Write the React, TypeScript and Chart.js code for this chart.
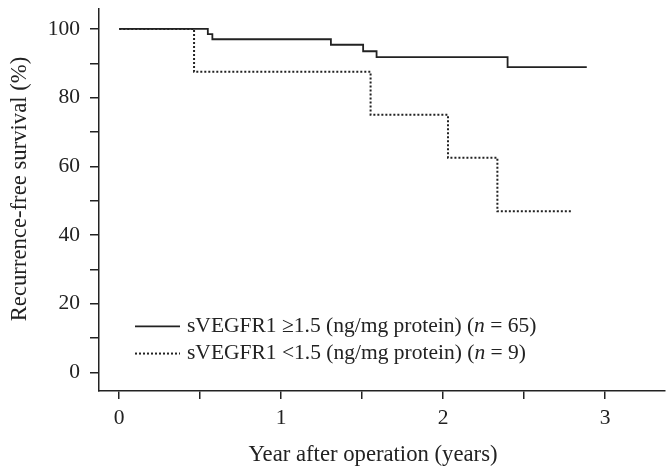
import React, { useEffect, useRef } from "react";
import { Chart, registerables } from "chart.js";

Chart.register(...registerables);

// Kaplan–Meier step data (years, % recurrence-free)
const highYears = [0, 0.547, 0.575, 1.307, 1.506, 1.589, 2.398, 2.887];
const highSurvival = [100, 98.5, 97.0, 95.4, 93.5, 91.8, 88.9, 88.9];
const lowYears = [0, 0.462, 1.552, 2.03, 2.335, 2.801];
const lowSurvival = [100, 87.5, 75.0, 62.5, 46.9, 46.9];

const xTicks = [0, 0.5, 1, 1.5, 2, 2.5, 3];
const yTicks = [0, 10, 20, 30, 40, 50, 60, 70, 80, 90, 100];
const xLabelTicks = [0, 1, 2, 3];
const yLabelTicks = [0, 20, 40, 60, 80, 100];

const xTitle = "Year after operation (years)";
const yTitle = "Recurrence-free survival (%)";

const legendItems = [
  { pre: "sVEGFR1 \u22651.5 (ng/mg protein) (", n: "n", post: " = 65)", dash: [] as number[] },
  { pre: "sVEGFR1 <1.5 (ng/mg protein) (", n: "n", post: " = 9)", dash: [2, 2] },
];

const FONT = "'Liberation Serif', 'DejaVu Serif', serif";
const INK = "#222";

const annotatePlugin = {
  id: "kmLegend",
  afterDatasetsDraw(chart: any) {
    const { ctx, chartArea, scales } = chart;
    const x0 = chartArea.left + 36;
    const rows = [scales.y.getPixelForValue(13.4), scales.y.getPixelForValue(5.5)];
    ctx.save();
    legendItems.forEach((it, i) => {
      const y = rows[i];
      ctx.beginPath();
      ctx.setLineDash(it.dash);
      ctx.lineWidth = it.dash.length ? 2 : 1.8;
      ctx.strokeStyle = INK;
      ctx.moveTo(x0, y);
      ctx.lineTo(x0 + 45, y);
      ctx.stroke();
      ctx.setLineDash([]);
      ctx.fillStyle = INK;
      ctx.textBaseline = "middle";
      let tx = x0 + 52;
      ctx.font = `21.5px ${FONT}`;
      ctx.fillText(it.pre, tx, y);
      tx += ctx.measureText(it.pre).width;
      ctx.font = `italic 21.5px ${FONT}`;
      ctx.fillText(it.n, tx, y);
      tx += ctx.measureText(it.n).width;
      ctx.font = `21.5px ${FONT}`;
      ctx.fillText(it.post, tx, y);
    });
    // axis titles
    ctx.font = `22.7px ${FONT}`;
    ctx.textAlign = "center";
    ctx.textBaseline = "alphabetic";
    ctx.fillText(xTitle, (chartArea.left + chartArea.right) / 2 - 9, chart.height - 5);
    ctx.translate(26, (chartArea.top + chartArea.bottom) / 2 - 11);
    ctx.rotate(-Math.PI / 2);
    ctx.fillText(yTitle, 0, 0);
    ctx.restore();
  },
};

export default function App() {
  const ref = useRef<HTMLCanvasElement | null>(null);
  useEffect(() => {
    if (!ref.current) return;
    const chart = new Chart(ref.current, {
      type: "line",
      data: {
        datasets: [
          {
            label: "sVEGFR1 ≥1.5",
            data: highYears.map((x, i) => ({ x, y: highSurvival[i] })),
            borderColor: INK,
            borderWidth: 1.8,
            stepped: "before",
            pointRadius: 0,
            fill: false,
          },
          {
            label: "sVEGFR1 <1.5",
            data: lowYears.map((x, i) => ({ x, y: lowSurvival[i] })),
            borderColor: INK,
            borderWidth: 2,
            borderDash: [2, 2],
            stepped: "before",
            pointRadius: 0,
            fill: false,
          },
        ],
      },
      options: {
        responsive: false,
        animation: false,
        layout: { padding: { top: 9, right: 1, left: 0, bottom: 0 } },
        plugins: { legend: { display: false }, tooltip: { enabled: false } },
        scales: {
          x: {
            type: "linear",
            min: -0.125,
            max: 3.37,
            afterBuildTicks: (s: any) => {
              s.ticks = xTicks.map((v) => ({ value: v }));
            },
            afterFit: (s: any) => {
              s.height = 75;
              s.paddingLeft = 0;
              s.paddingRight = 0;
            },
            grid: { drawOnChartArea: false, drawTicks: true, tickLength: 8, color: INK, lineWidth: 1.5 },
            border: { display: true, color: INK, width: 1.5 },
            ticks: {
              color: INK,
              padding: 6,
              maxRotation: 0,
              autoSkip: false,
              font: { family: FONT, size: 21.5 },
              callback: (v: any) => (xLabelTicks.includes(Number(v)) ? String(v) : ""),
            },
          },
          y: {
            type: "linear",
            min: -5.4,
            max: 105.8,
            afterBuildTicks: (s: any) => {
              s.ticks = yTicks.map((v) => ({ value: v }));
            },
            afterFit: (s: any) => {
              s.width = 99;
              s.paddingTop = 0;
              s.paddingBottom = 0;
            },
            grid: { drawOnChartArea: false, drawTicks: true, tickLength: 9, color: INK, lineWidth: 1.5 },
            border: { display: true, color: INK, width: 1.5 },
            ticks: {
              color: INK,
              padding: 10,
              autoSkip: false,
              font: { family: FONT, size: 21.5 },
              callback: (v: any) => (yLabelTicks.includes(Number(v)) ? String(v) : ""),
            },
          },
        },
      },
      plugins: [annotatePlugin],
    });
    return () => chart.destroy();
  }, []);
  return (
    <div style={{ position: "fixed", left: 0, top: 0, width: 666, height: 466, background: "#fff" }}>
      <canvas ref={ref} width={666} height={466} style={{ display: "block", width: 666, height: 466 }} />
    </div>
  );
}
